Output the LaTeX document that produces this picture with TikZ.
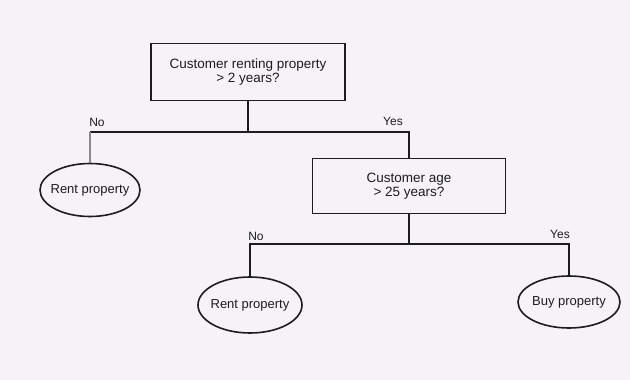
\documentclass[tikz,border=0pt]{standalone}
\usepackage{fontspec}
\setmainfont{Liberation Sans}
\usetikzlibrary{shapes.geometric}
\definecolor{bg}{RGB}{247,241,248}
\definecolor{ink}{RGB}{30,28,32}
\definecolor{faint}{RGB}{140,136,142}
\newcommand{\tight}[1]{\makebox[0pt]{#1}}
\tikzset{
  question/.style={draw=ink, line width=1.8pt, fill=bg, align=center, inner sep=0pt,
    font=\fontsize{13.5}{14}\selectfont, text=ink},
  leaf/.style={draw=ink, line width=1.6pt, ellipse, inner sep=0pt, fill=bg,
    font=\fontsize{13}{14}\selectfont, text=ink},
  conn/.style={draw=ink, line width=1.7pt},
  weak/.style={draw=faint, line width=1.2pt},
  lab/.style={font=\fontsize{12}{13}\selectfont, text=ink, inner sep=0pt}
}
\begin{document}
\begin{tikzpicture}[x=1pt,y=-1pt]
\fill[bg] (0,0) rectangle (630,380);
\useasboundingbox (0,0) rectangle (630,380);

\node[question, minimum width=194pt, minimum height=57pt] (q1) at (248,72)
  {Customer renting property\\ > 2 years?};
\node[question, minimum width=193pt, minimum height=55pt] (q2) at (409,186)
  {Customer age\\ > 25 years?};
\node[leaf, minimum width=100pt, minimum height=53pt] (r1) at (90,190) {\tight{Rent property}};
\node[leaf, minimum width=104pt, minimum height=56pt] (r2) at (250,305) {\tight{Rent property}};
\node[leaf, minimum width=102pt, minimum height=52pt] (b2) at (569,302) {\tight{Buy property}};

\coordinate (l1) at (90,132);
\coordinate (m1) at (248,132);
\coordinate (e1) at (409,132);
\coordinate (l2) at (250,244);
\coordinate (m2) at (409,244);
\coordinate (e2) at (569,244);

\draw[conn] (q1.south) -- (m1);
\draw[conn] (l1) -- (e1) -- (q2.north);
\draw[weak] (l1) -- (r1.north);
\draw[conn] (q2.south) -- (m2);
\draw[conn] (r2.north) -- (l2) -- (e2) -- (b2.north);

\node[lab] (no1) at (97,122) {No};
\node[lab] (yes1) at (393,121) {Yes};
\node[lab] (no2) at (256,236) {No};
\node[lab] (yes2) at (560,234) {Yes};
\end{tikzpicture}
\end{document}
